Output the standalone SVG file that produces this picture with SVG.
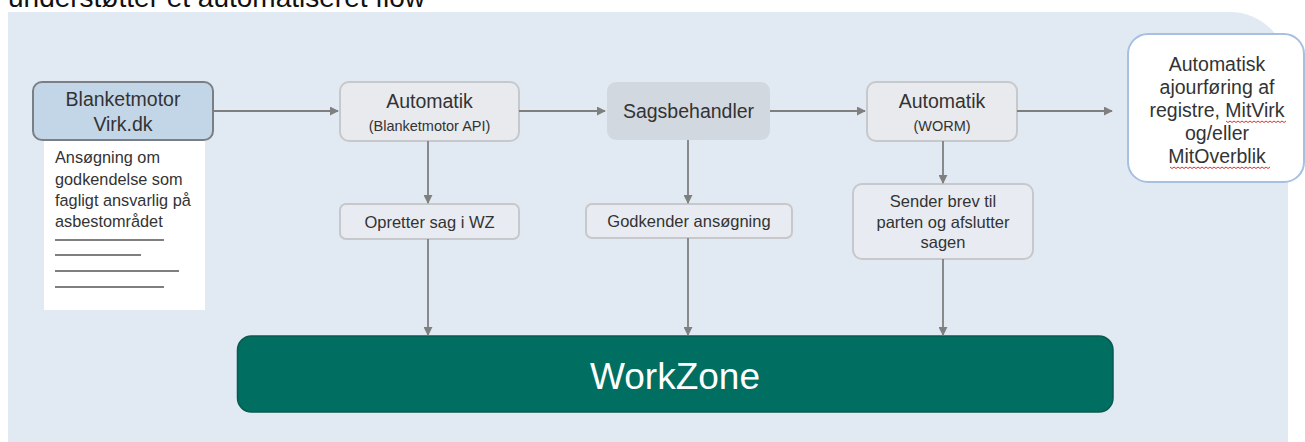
<svg xmlns="http://www.w3.org/2000/svg" width="1305" height="442" viewBox="0 0 1305 442">
<defs>
<style>
text{font-family:"Liberation Sans",Arial,sans-serif;fill:#333333}
.c{text-anchor:middle}
.auto{fill:#e8eaee;stroke:#c6c8cc;stroke-width:2}
.step{fill:#e8ecf2;stroke:#c6c8cc;stroke-width:2}
.conn{stroke:#7f7f7f;stroke-width:1.8;fill:none;marker-end:url(#ah)}
.doc{stroke:#555;stroke-width:1.5}
.sq{stroke:#e03030;stroke-width:1;fill:none}
</style>
<marker id="ah" viewBox="0 0 10 10" refX="9" refY="5" markerWidth="5" markerHeight="5" orient="auto" markerUnits="strokeWidth">
<path d="M0,0 L10,5 L0,10 z" fill="#7f7f7f"/>
</marker>
</defs>
<rect width="1305" height="442" fill="#ffffff"/>
<text x="8" y="7" style="font-size:28px;fill:#111">understøtter et automatiseret flow</text>
<path d="M8,12 H1230 A58,58 0 0 1 1288,70 V442 H8 Z" fill="#e1e9f3"/>

<g id="blanketmotor">
<rect x="33" y="82" width="180" height="58" rx="9" fill="#c3d6e8" stroke="#7a7f86" stroke-width="2"/>
<text class="c" x="123" y="106" style="font-size:19.5px">Blanketmotor</text>
<text class="c" x="123" y="131" style="font-size:19.5px">Virk.dk</text>
</g>

<g id="ansoegning">
<rect x="44" y="141" width="161" height="169" fill="#ffffff"/>
<text x="55" y="163" style="font-size:16.3px">Ansøgning om</text>
<text x="55" y="184.5" style="font-size:16.3px">godkendelse som</text>
<text x="55" y="206" style="font-size:16.3px">fagligt ansvarlig på</text>
<text x="55" y="227" style="font-size:16.3px">asbestområdet</text>
<line class="doc" x1="55" y1="240" x2="164" y2="240"/>
<line class="doc" x1="55" y1="255" x2="141" y2="255"/>
<line class="doc" x1="55" y1="271" x2="179" y2="271"/>
<line class="doc" x1="55" y1="287" x2="164" y2="287"/>
</g>

<g id="automatik-api">
<rect class="auto" x="340" y="82" width="179" height="59" rx="9"/>
<text class="c" x="429.5" y="108" style="font-size:19.5px">Automatik</text>
<text class="c" x="429.5" y="131" style="font-size:14.5px">(Blanketmotor API)</text>
</g>

<g id="sagsbehandler">
<rect x="607" y="82" width="163" height="58" rx="9" fill="#d2d8df"/>
<text class="c" x="688.5" y="118" style="font-size:19.5px">Sagsbehandler</text>
</g>

<g id="automatik-worm">
<rect class="auto" x="867" y="82" width="150" height="59" rx="9"/>
<text class="c" x="942" y="108" style="font-size:19.5px">Automatik</text>
<text class="c" x="942" y="131" style="font-size:14.5px">(WORM)</text>
</g>

<g id="ajourfoering">
<rect x="1128" y="34" width="176" height="148" rx="20" fill="#ffffff" stroke="#a7c0e0" stroke-width="2"/>
<text class="c" x="1217" y="70.5" style="font-size:19.5px">Automatisk</text>
<text class="c" x="1217" y="94" style="font-size:19.5px">ajourføring af</text>
<text class="c" x="1217" y="117" style="font-size:19.5px">registre, MitVirk</text>
<text class="c" x="1217" y="140" style="font-size:19.5px">og/eller</text>
<text class="c" x="1217" y="163" style="font-size:19.5px">MitOverblik</text>
<path class="sq" d="M1226,121 l2,1.5 l2,-1.5 l2,1.5 l2,-1.5 l2,1.5 l2,-1.5 l2,1.5 l2,-1.5 l2,1.5 l2,-1.5 l2,1.5 l2,-1.5 l2,1.5 l2,-1.5 l2,1.5 l2,-1.5 l2,1.5 l2,-1.5 l2,1.5 l2,-1.5 l2,1.5 l2,-1.5 l2,1.5 l2,-1.5 l2,1.5 l2,-1.5 l2,1.5 l2,-1.5 l2,1.5 l2,-1.5"/>
<path class="sq" d="M1170,167 l2,1.5 l2,-1.5 l2,1.5 l2,-1.5 l2,1.5 l2,-1.5 l2,1.5 l2,-1.5 l2,1.5 l2,-1.5 l2,1.5 l2,-1.5 l2,1.5 l2,-1.5 l2,1.5 l2,-1.5 l2,1.5 l2,-1.5 l2,1.5 l2,-1.5 l2,1.5 l2,-1.5 l2,1.5 l2,-1.5 l2,1.5 l2,-1.5 l2,1.5 l2,-1.5 l2,1.5 l2,-1.5 l2,1.5 l2,-1.5 l2,1.5 l2,-1.5 l2,1.5 l2,-1.5 l2,1.5 l2,-1.5 l2,1.5 l2,-1.5 l2,1.5 l2,-1.5 l2,1.5 l2,-1.5 l2,1.5 l2,-1.5 l2,1.5 l2,-1.5 l2,1.5 l2,-1.5"/>
</g>

<g id="opretter">
<rect class="step" x="340" y="204" width="179" height="35" rx="6"/>
<text class="c" x="429.5" y="228" style="font-size:16.5px">Opretter sag i WZ</text>
</g>

<g id="godkender">
<rect class="step" x="586" y="204" width="206" height="34" rx="6"/>
<text class="c" x="689" y="227" style="font-size:16.5px">Godkender ansøgning</text>
</g>

<g id="sender">
<rect class="step" x="853" y="184" width="180" height="75" rx="9"/>
<text class="c" x="943" y="207" style="font-size:16.5px">Sender brev til</text>
<text class="c" x="943" y="228" style="font-size:16.5px">parten og afslutter</text>
<text class="c" x="943" y="248" style="font-size:16.5px">sagen</text>
</g>

<g id="workzone">
<rect x="237.5" y="336" width="875.5" height="76" rx="14" fill="#006e61" stroke="#0a5a50" stroke-width="1.5"/>
<text class="c" x="675" y="389" style="font-size:37px;fill:#ffffff">WorkZone</text>
</g>

<g id="connectors">
<line class="conn" x1="213" y1="111" x2="338" y2="111"/>
<line class="conn" x1="519" y1="111" x2="605" y2="111"/>
<line class="conn" x1="770" y1="111" x2="865" y2="111"/>
<line class="conn" x1="1017" y1="111" x2="1112" y2="111"/>
<line class="conn" x1="428" y1="141" x2="428" y2="203"/>
<line class="conn" x1="688" y1="140" x2="688" y2="203"/>
<line class="conn" x1="943" y1="141" x2="943" y2="183"/>
<line class="conn" x1="428" y1="239" x2="428" y2="335"/>
<line class="conn" x1="688" y1="238" x2="688" y2="335"/>
<line class="conn" x1="943" y1="259" x2="943" y2="335"/>
</g>
</svg>
